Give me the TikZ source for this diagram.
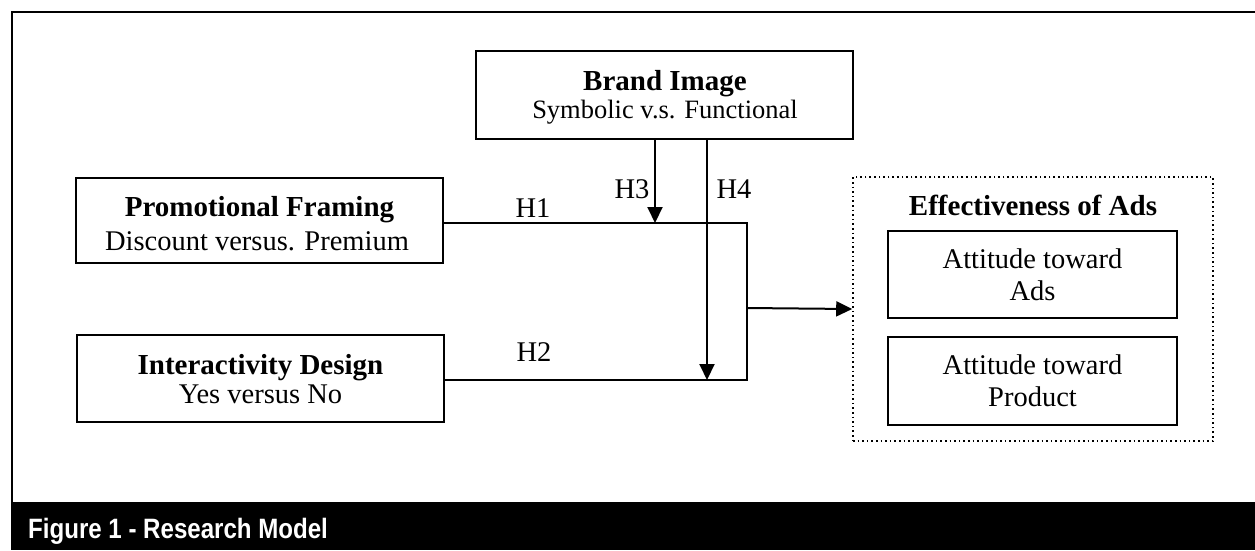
\documentclass[tikz,border=0pt]{standalone}
\usepackage{fontspec}
\setmainfont{Liberation Serif}
\newfontfamily\capfont{Liberation Sans}
\usetikzlibrary{arrows.meta}
\tikzset{
  box/.style={draw, line width=2pt, inner sep=0pt},
  conn/.style={line width=2pt},
  arr/.style={line width=2pt, -{Triangle[length=16pt,width=15pt]}},
  txt/.style={anchor=base, inner sep=0pt, font=\fontsize{28.5}{31}\selectfont},
  btxt/.style={anchor=base, inner sep=0pt, font=\bfseries\fontsize{29}{31}\selectfont},
}
\begin{document}
\begin{tikzpicture}[x=1pt,y=-1pt]
\useasboundingbox (0,0) rectangle (1255,550);
% frame
\draw[line width=2.5pt] (12,502) -- (12,12) -- (1255,12);
\fill[black] (11,502) rectangle (1255,550);
\node[anchor=base west, inner sep=0pt, text=white, xscale=0.86, font=\capfont\bfseries\fontsize{28}{30}\selectfont] (cap) at (28,538) {Figure 1 - Research Model};
% boxes
\node[box, minimum width=377pt, minimum height=88pt] (bi) at (664.5,95) {};
\node[btxt] (bi1) at (665,90) {Brand Image};
\node[txt, font=\fontsize{26.5}{29}\selectfont] (bi2) at (665,118) {Symbolic v.s. Functional};
\node[box, minimum width=367pt, minimum height=85pt] (pf) at (259.5,220.5) {};
\node[btxt] (pf1) at (259.5,216) {Promotional Framing};
\node[txt] (pf2) at (257,250) {Discount versus. Premium};
\node[box, minimum width=367pt, minimum height=87pt] (id) at (260.5,378.5) {};
\node[btxt] (id1) at (260.5,374) {Interactivity Design};
\node[txt] (id2) at (260.5,403) {Yes versus No};
\node[draw, line width=1.6pt, dash pattern=on 1.6pt off 3pt, minimum width=360pt, minimum height=264pt, inner sep=0pt] (eff) at (1033,309) {};
\node[btxt] (efft) at (1033,215) {Effectiveness of Ads};
\node[box, minimum width=289pt, minimum height=87pt] (aa) at (1032.5,274.5) {};
\node[txt] (aa1) at (1032.5,268) {Attitude toward};
\node[txt] (aa2) at (1032.5,300) {Ads};
\node[box, minimum width=289pt, minimum height=88pt] (ap) at (1032.5,381) {};
\node[txt] (ap1) at (1032.5,374) {Attitude toward};
\node[txt] (ap2) at (1032.5,406) {Product};
% connectors
\coordinate (j1) at (747,223);
\coordinate (j2) at (747,380);
\coordinate (jm) at (747,308);
\coordinate (h3x) at (655,0);
\coordinate (h4x) at (707,0);
\draw[conn] (pf.east |- j1) -- (j1) -- (j2) -- (id.east |- j2);
\draw[arr] (jm) -- (eff.west);
\draw[arr] (bi.south -| h3x) -- (h3x |- j1);
\draw[arr] (bi.south -| h4x) -- (h4x |- j2);
% labels
\node[txt] (h1) at (533,217) {H1};
\node[txt] (h2) at (534,361) {H2};
\node[txt] (h3) at (632,198) {H3};
\node[txt] (h4) at (734,198) {H4};
\end{tikzpicture}
\end{document}
